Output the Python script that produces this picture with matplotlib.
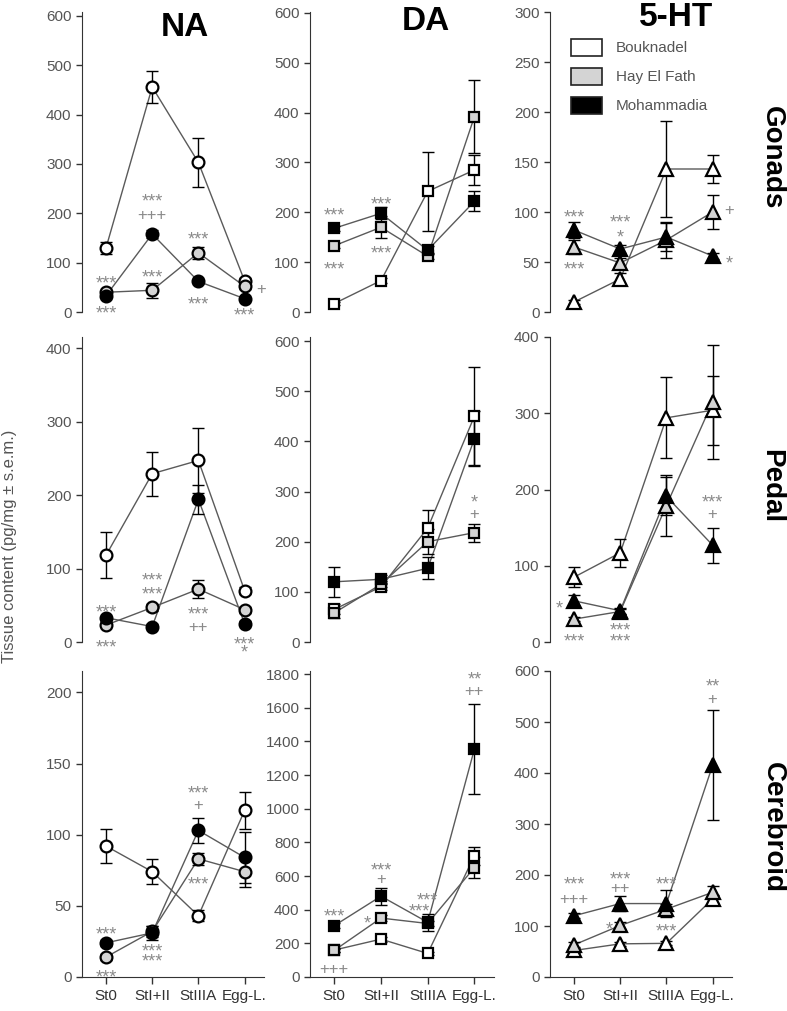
import matplotlib
matplotlib.use("Agg")
import matplotlib.pyplot as plt
from matplotlib.patches import Rectangle
from matplotlib.transforms import offset_copy

plt.rcParams['font.family'] = ['Liberation Sans', 'DejaVu Sans']

stages = ['St0', 'StI+II', 'StIIIA', 'Egg-L.']
sites = ['Bouknadel', 'Hay El Fath', 'Mohammadia']

# rows of each table: Bouknadel, Hay El Fath, Mohammadia
na_gonads_mean = [[130, 456, 303, 63], [40, 44, 120, 52], [33, 158, 62, 27]]
na_gonads_sem = [[12, 33, 50, 5], [5, 15, 12, 5], [4, 8, 4, 4]]
da_gonads_mean = [[17, 63, 242, 285], [133, 170, 112, 392], [168, 198, 124, 222]]
da_gonads_sem = [[3, 5, 80, 30], [5, 22, 6, 73], [5, 12, 8, 20]]
ht_gonads_mean = [[10, 33, 143, 143], [65, 49, 72, 100], [82, 63, 75, 56]]
ht_gonads_sem = [[2, 6, 48, 14], [7, 5, 18, 17], [8, 4, 14, 3]]

na_pedal_mean = [[118, 229, 247, 70], [23, 47, 72, 44], [33, 21, 194, 25]]
na_pedal_sem = [[31, 30, 44, 5], [3, 5, 12, 4], [3, 3, 20, 3]]
da_pedal_mean = [[65, 110, 227, 450], [58, 115, 200, 218], [120, 125, 147, 405]]
da_pedal_sem = [[10, 6, 36, 98], [10, 6, 25, 18], [30, 8, 22, 55]]
ht_pedal_mean = [[85, 117, 294, 304], [30, 40, 179, 315], [54, 41, 191, 127]]
ht_pedal_sem = [[13, 18, 53, 45], [3, 3, 40, 75], [8, 4, 25, 23]]

na_cereb_mean = [[92, 74, 43, 117], [14, 32, 83, 74], [24, 31, 103, 84]]
na_cereb_sem = [[12, 9, 4, 13], [2, 4, 4, 11], [2, 5, 9, 18]]
da_cereb_mean = [[160, 225, 140, 720], [158, 350, 318, 650], [305, 480, 325, 1354]]
da_cereb_sem = [[10, 15, 10, 55], [10, 20, 15, 60], [15, 50, 50, 268]]
ht_cereb_mean = [[52, 65, 66, 153], [63, 101, 133, 166], [120, 144, 144, 415]]
ht_cereb_sem = [[4, 4, 4, 8], [5, 6, 10, 12], [5, 14, 27, 108]]

# significance marks: (x position, y value, text)
na_gonads_marks = [(0, 70, '***'), (0, 8, '***'), (1, 236, '***'), (1, 198, '+++'),
                   (1, 82, '***'), (2, 158, '***'), (2, 27, '***'), (3.35, 47, '+'),
                   (3, 4, '***')]
da_gonads_marks = [(0, 205, '***'), (0, 98, '***'), (1, 228, '***'), (1, 130, '***')]
ht_gonads_marks = [(0, 100, '***'), (0, 48, '***'), (1, 95, '***'), (1, 80, '*'),
                   (3.35, 103, '+'), (3.35, 54, '*')]
na_pedal_marks = [(0, 48, '***'), (0, 1, '***'), (1, 91, '***'), (1, 72, '***'),
                  (2, 45, '***'), (2, 21, '++'), (3, 5, '***'), (3, -6, '*')]
da_pedal_marks = [(3, 290, '*'), (3, 257, '+')]
ht_pedal_marks = [(-0.32, 51, '*'), (0, 8, '***'), (1, 23, '***'), (1, 8, '***'),
                  (3, 190, '***'), (3, 168, '+')]
na_cereb_marks = [(0, 34, '***'), (0, 4, '***'), (1, 22, '***'), (1, 15, '***'),
                  (2, 133, '***'), (2, 121, '+'), (2, 69, '***')]
da_cereb_marks = [(0, 397, '***'), (0, 53, '+++'), (1, 666, '***'), (1, 584, '+'),
                  (0.7, 352, '*'), (2, 489, '***'), (1.82, 426, '***'),
                  (3, 1802, '**'), (3, 1704, '++')]
ht_cereb_marks = [(0, 192, '***'), (0, 154, '+++'), (1, 202, '***'), (1, 176, '++'),
                  (0.76, 104, '*'), (2, 193, '***'), (2, 101, '***'),
                  (3, 582, '**'), (3, 547, '+')]

fills = ['white', '#d4d4d4', 'black']
W, H = 787, 1011

fig = plt.figure(figsize=(W / 100, H / 100), dpi=100)


def add_ax(left, top, width, height):
    return fig.add_axes([left / W, 1 - (top + height) / H, width / W, height / H])


cols = [(82, 182), (310, 184), (550, 182)]
rows = [(12, 300), (337, 305), (671, 306)]

panels = [
    [(na_gonads_mean, na_gonads_sem, na_gonads_marks, 'o', 8.5, 608, 100),
     (da_gonads_mean, da_gonads_sem, da_gonads_marks, 's', 7, 602, 100),
     (ht_gonads_mean, ht_gonads_sem, ht_gonads_marks, '^', 9.5, 300, 50)],
    [(na_pedal_mean, na_pedal_sem, na_pedal_marks, 'o', 8.5, 415, 100),
     (da_pedal_mean, da_pedal_sem, da_pedal_marks, 's', 7, 608, 100),
     (ht_pedal_mean, ht_pedal_sem, ht_pedal_marks, '^', 9.5, 400, 100)],
    [(na_cereb_mean, na_cereb_sem, na_cereb_marks, 'o', 8.5, 215, 50),
     (da_cereb_mean, da_cereb_sem, da_cereb_marks, 's', 7, 1818, 200),
     (ht_cereb_mean, ht_cereb_sem, ht_cereb_marks, '^', 9.5, 600, 100)],
]

x = list(range(len(stages)))

for r, row in enumerate(panels):
    for c, (means, sems, marks, mk, ms, ytop, ystep) in enumerate(row):
        ax = add_ax(cols[c][0], rows[r][0], cols[c][1], rows[r][1])
        for i in range(3):
            ax.plot(x, means[i], color='#5a5a5a', lw=1, zorder=2)
            ax.errorbar(x, means[i], yerr=sems[i], fmt='none', ecolor='black',
                        elinewidth=1, capsize=4.5, capthick=1, zorder=3)
        for i in range(3):
            ax.plot(x, means[i], linestyle='none', marker=mk, ms=ms, mfc=fills[i],
                    mec='black', mew=1.6, zorder=4 + i, clip_on=False)
        for (mx, my, txt) in marks:
            # star glyphs sit high in the line, plus signs near the middle
            fs = 13 if '*' in txt else 12
            dy = -0.6 * fs if '*' in txt else -0.33 * fs
            tr = offset_copy(ax.transData, fig=fig, y=dy, units='points')
            ax.text(mx, my, txt, transform=tr, ha='center', va='baseline',
                    fontsize=fs, color='#8a8a8a', clip_on=False, zorder=8)
        ax.set_xlim(-0.52, 3.42)
        ax.set_ylim(0, ytop)
        ticks = list(range(0, int(ytop) + 1, ystep))
        ax.set_yticks(ticks)
        ax.tick_params(axis='y', direction='out', length=4, width=1, colors='#333333',
                       labelcolor='#555555', labelsize=11)
        for s in ['top', 'right']:
            ax.spines[s].set_visible(False)
        ax.spines['left'].set_color('#333333')
        if r == 2:
            ax.set_xticks(x)
            ax.set_xticklabels(stages)
            ax.tick_params(axis='x', direction='out', length=5, width=1, colors='#333333',
                           labelcolor='#333333', labelsize=11)
            ax.spines['bottom'].set_color('#333333')
        else:
            ax.spines['bottom'].set_visible(False)
            ax.set_xticks([])
        ax.patch.set_alpha(0)

# column titles
fig.text(185 / W, 1 - 27 / H, 'NA', ha='center', va='center', fontsize=24, fontweight='bold')
fig.text(426 / W, 1 - 22 / H, 'DA', ha='center', va='center', fontsize=24, fontweight='bold')
fig.text(676 / W, 1 - 17 / H, '5-HT', ha='center', va='center', fontsize=24, fontweight='bold')

# row titles
fig.text(772 / W, 1 - 158 / H, 'Gonads', ha='center', va='center', rotation=270,
         fontsize=20, fontweight='bold')
fig.text(771 / W, 1 - 486 / H, 'Pedal', ha='center', va='center', rotation=270,
         fontsize=20, fontweight='bold')
fig.text(773 / W, 1 - 827 / H, 'Cerebroid', ha='center', va='center', rotation=270,
         fontsize=20, fontweight='bold')

fig.text(10 / W, 1 - 546 / H, 'Tissue content (pg/mg ± s.e.m.)', ha='center', va='center',
         rotation=90, fontsize=12, color='#555555')

# legend
for i, (name, fc) in enumerate(zip(sites, fills)):
    top = 39 + i * 29
    fig.add_artist(Rectangle((571 / W, 1 - (top + 17) / H), 31 / W, 17 / H,
                             transform=fig.transFigure, facecolor=fc, edgecolor='#222222',
                             lw=1.2))
    fig.text(616 / W, 1 - (top + 9) / H, name, ha='left', va='center', fontsize=11,
             color='#555555')

fig.savefig('out.png', dpi=100)
